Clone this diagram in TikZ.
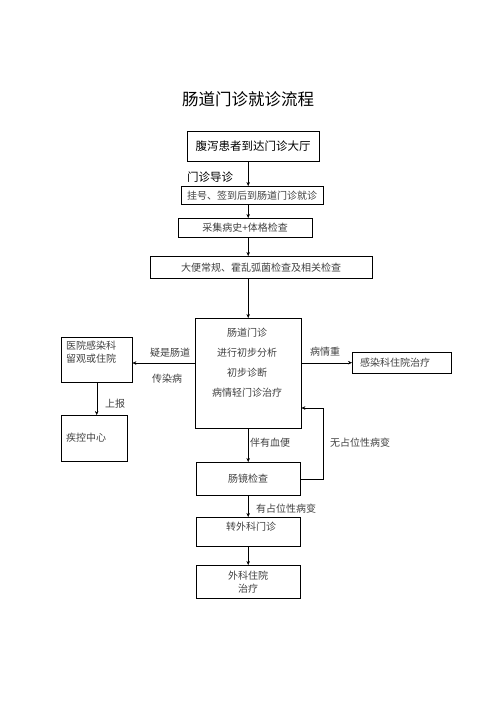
\documentclass[tikz,border=0pt]{standalone}
\usepackage{fontspec}
\newfontfamily\cjk{Noto Sans CJK SC}
\usetikzlibrary{arrows.meta, positioning}

\begin{document}
\begin{tikzpicture}[x=1pt, y=-1pt, ->, >={Stealth[length=4pt, width=3.5pt]}, thin,
    box/.style={draw, -, anchor=north west, inner sep=0pt},
    txt/.style={font=\cjk\fontsize{10}{13}\selectfont, text=black!75, inner sep=0pt}]
    \useasboundingbox (0,0) rectangle (496,702);
    \node[font=\cjk\fontsize{16.5}{18}\selectfont, inner sep=0pt] (title) at (248,99) {肠道门诊就诊流程};
    % main column
    \node[box, minimum width=132, minimum height=30, font=\cjk\fontsize{11.5}{13}\selectfont] (hall) at (187,131) {腹泻患者到达门诊大厅};
    \node[box, txt, minimum width=142, minimum height=18] (reg) at (181,186) {挂号、签到后到肠道门诊就诊};
    \node[box, txt, minimum width=134, minimum height=19] (hist) at (178,218) {采集病史+体格检查};
    \node[box, txt, minimum width=222, minimum height=22] (stool) at (150,256) {大便常规、霍乱弧菌检查及相关检查};
    \node[box, minimum width=106, minimum height=110] (clinic) at (195,318) {};
    \node[txt, align=center, font=\cjk\fontsize{10}{20}\selectfont] (clinicTxt) at (247,363) {肠道门诊\\进行初步分析\\初步诊断\\病情轻门诊治疗};
    \node[box, minimum width=104, minimum height=33, txt] (scope) at (196,462) {肠镜检查};
    \node[box, minimum width=104, minimum height=29] (surg) at (196,517) {};
    \node[txt] (surgTxt) at (251,527) {转外科门诊};
    \node[box, minimum width=104, minimum height=33, txt, align=center] (surgward) at (196,565) {外科住院\\治疗};
    % side boxes
    \node[box, minimum width=71, minimum height=45] (ward) at (61,337) {};
    \node[txt, align=left, anchor=north west] (wardTxt) at (66,341) {医院感染科\\留观或住院};
    \node[box, minimum width=66, minimum height=46] (cdc) at (61,415) {};
    \node[txt, anchor=west] (cdcTxt) at (66,438) {疾控中心};
    \node[box, minimum width=99, minimum height=21] (severe) at (352,352) {};
    \node[txt, anchor=west] (severeTxt) at (360,362.5) {感染科住院治疗};
    % labels
    \node[txt, anchor=west, font=\cjk\fontsize{11.5}{13}\selectfont, text=black] (guide) at (187,177) {门诊导诊};
    \node[txt] (suspect) at (170,353) {疑是肠道};
    \node[txt] (infect) at (167,379) {传染病};
    \node[txt] (report) at (115,404) {上报};
    \node[txt] (heavy) at (325,352) {病情重};
    \node[txt] (blood) at (270,443) {伴有血便};
    \node[txt] (nolesion) at (360,443) {无占位性病变};
    \node[txt] (lesion) at (286,509) {有占位性病变};
    % arrows
    \draw (hall.south -| clinic) -- (reg.north -| clinic);
    \draw (reg.south -| clinic) -- (hist.north -| clinic);
    \draw (hist.south -| clinic) -- (stool.north -| clinic);
    \draw (stool.south -| clinic) -- (clinic.north);
    \draw (clinic.west |- 0,363) -- (ward.east |- 0,363);
    \draw (clinic.east |- severe.west) -- (severe.west);
    \draw (ward.south) -- (ward.south |- cdc.north);
    \draw (clinic.south) -- (scope.north);
    \draw (scope.south) -- (surg.north);
    \draw (surg.south) -- (surgward.north);
    \coordinate (back) at (323,408);
    \draw (scope.east) -| (back) -- (clinic.east |- back);
\end{tikzpicture}
\end{document}
